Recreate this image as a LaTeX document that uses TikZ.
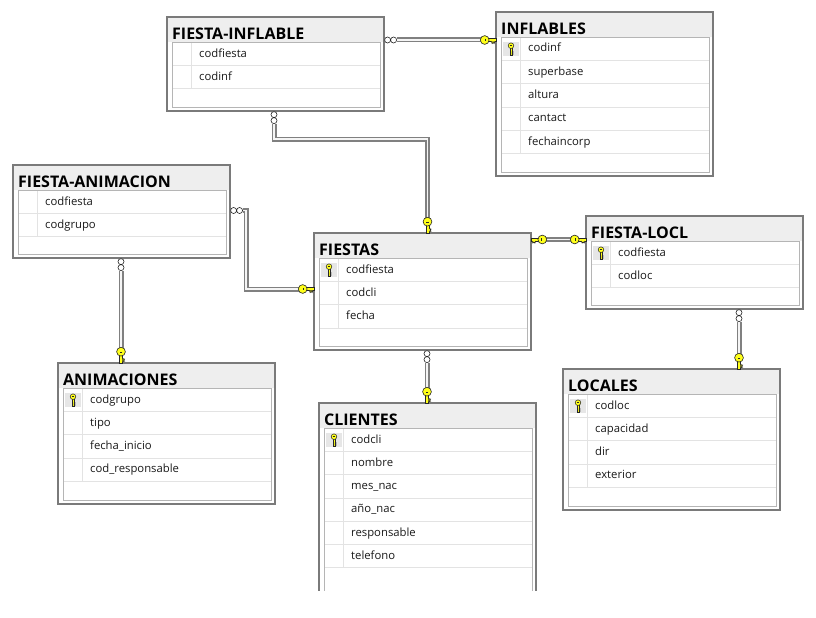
\documentclass[tikz,border=0pt]{standalone}
\usepackage{fontspec}
\setmainfont{Open Sans}
\usetikzlibrary{calc}
\definecolor{keyyellow}{HTML}{FFFF1A}
\definecolor{titlebg}{HTML}{EEEEEE}
\definecolor{bordergray}{HTML}{7A7A7A}
\definecolor{rowgray}{HTML}{E3E3E3}
\definecolor{innergray}{HTML}{B5B5B5}
\definecolor{conngray}{HTML}{808080}
\definecolor{keybg}{HTML}{E6E6E6}
\tikzset{
  tblbox/.style={draw=bordergray, line width=1.5pt, fill=white, inner sep=0pt, outer sep=0pt, rectangle},
  titletext/.style={font=\bfseries\fontsize{16}{18}\selectfont, inner sep=0pt, anchor=base west},
  rowtext/.style={font=\fontsize{11.3}{13}\selectfont, inner sep=0pt, anchor=base west, text=black!90},
  rowline/.style={draw=rowgray, line width=0.8pt},
  innerbox/.style={draw=innergray, line width=0.8pt},
  conn/.style={draw=conngray, line width=1.6pt, double=white!96!black, double distance=1.8pt},
  iconline/.style={draw=black!85, line width=0.6pt},
}
% small key in a primary-key row; #1,#2 = centre of the ring
\newcommand{\rowkey}[2]{%
  \fill[keybg] (#1-8,#2-4) rectangle (#1+7.5,#2+10);
  \filldraw[fill=keyyellow, iconline, line width=0.5pt] (#1-0.9,#2+2) rectangle (#1+0.9,#2+9.5);
  \draw[iconline, line width=0.5pt] (#1+0.9,#2+5.5) -- (#1+2.3,#2+6.3) -- (#1+0.9,#2+7.3) -- (#1+2.3,#2+8.3) -- (#1+0.9,#2+9);
  \filldraw[fill=keyyellow, iconline, line width=0.5pt] (#1,#2) circle (2.8);
  \draw[iconline, line width=0.5pt] (#1-1.2,#2) -- (#1+1.2,#2);
}
% table: #1 id, #2 left, #3 top, #4 height, #5 title, #6 rows, #7 pk flag
\newcommand{\dbtable}[7]{%
  \node[tblbox, minimum width=217pt, minimum height=#4pt, anchor=north west] (#1) at (#2,#3) {};
  \fill[titlebg] (#2+0.75,#3+0.75) rectangle (#2+216.25,#3+25);
  \node[titletext] at (#2+5,#3+22.3) {#5};
  \foreach \r [count=\i] in {#6} {
    \pgfmathsetmacro\rt{#3+25+(\i-1)*23.3}
    \draw[rowline] (#2+5,\rt+23.3) -- (#2+213,\rt+23.3);
    \draw[rowline] (#2+24,\rt) -- (#2+24,\rt+23.3);
    \node[rowtext] at (#2+32,\rt+15) {\r};
  }
  \draw[innerbox] (#2+5,#3+25) rectangle (#2+213,#3+#4-4);
  \ifnum#7=1 \rowkey{#2+15}{#3+33.7}\fi
}
% key end of a relationship: #1 edge coordinate, #2 direction toward table, #3 teeth side
\newcommand{\fkkey}[3]{%
  \begin{scope}[shift={(#1)}, rotate=#2]
    \filldraw[fill=keyyellow, iconline] (-8,-1.5) rectangle (0,1.5);
    \draw[iconline, fill=keyyellow] (-4.6,#3*1.5) -- (-3.9,#3*3.6) -- (-2.9,#3*2.4) -- (-1.9,#3*3.6) -- (-1.1,#3*1.5);
    \filldraw[fill=keyyellow, iconline] (-11.3,0) circle (4.4);
    \draw[iconline, line width=0.9pt] (-10.6,-1.4) -- (-10.6,1.4);
  \end{scope}}
% many end: #1 edge coordinate, #2 direction away from table
\newcommand{\manyend}[2]{%
  \begin{scope}[shift={(#1)}, rotate=#2]
    \filldraw[fill=white, iconline] (3.6,0) circle (3) (9.6,0) circle (3);
  \end{scope}}

\begin{document}
\begin{tikzpicture}[x=1pt, y=-1pt]
\fill[white] (0,0) rectangle (816,618);
\useasboundingbox (0,0) rectangle (816,618);

\dbtable{fi}{167}{17}{94}{FIESTA-INFLABLE}{codfiesta, codinf}{0}
\dbtable{inf}{496}{12}{164}{INFLABLES}{codinf, superbase, altura, cantact, fechaincorp}{1}
\dbtable{fa}{13}{165}{93}{FIESTA-ANIMACION}{codfiesta, codgrupo}{0}
\dbtable{fs}{314}{233}{117}{FIESTAS}{codfiesta, codcli, fecha}{1}
\dbtable{fl}{586}{216}{93}{FIESTA-LOCL}{codfiesta, codloc}{1}
\dbtable{ani}{58}{363}{141}{ANIMACIONES}{codgrupo, tipo, fecha\_inicio, cod\_responsable}{1}
\dbtable{loc}{563}{369}{141}{LOCALES}{codloc, capacidad, dir, exterior}{1}
\begin{scope}
  \clip (0,0) rectangle (816,590);
  \dbtable{cli}{319}{403}{194}{CLIENTES}{codcli, nombre, mes\_nac, año\_nac, responsable, telefono}{1}
\end{scope}

% relationship anchor points
\coordinate (p1a) at ([yshift=-23pt]fi.north east);
\coordinate (p1b) at (inf.west |- p1a);
\coordinate (p2a) at ([xshift=107pt]fi.south west);
\coordinate (p2m) at ([yshift=-28pt]p2a);
\coordinate (p2b) at ([xshift=113.5pt]fs.north west);
\coordinate (p3a) at ([yshift=-45.5pt]fa.north east);
\coordinate (p3m) at ([xshift=16pt]p3a);
\coordinate (p3b) at ([yshift=-56pt]fs.north west);
\coordinate (p4a) at ([yshift=-6.5pt]fs.north east);
\coordinate (p4b) at (fl.west |- p4a);
\coordinate (p5a) at ([xshift=153pt]fl.south west);
\coordinate (p5b) at (p5a |- loc.north);
\coordinate (p6a) at ([xshift=113pt]fs.south west);
\coordinate (p6b) at (p6a |- cli.north);
\coordinate (p7a) at ([xshift=108pt]fa.south west);
\coordinate (p7b) at (p7a |- ani.north);

% connectors
\draw[conn] ([xshift=12.6pt]p1a) -- ([xshift=-11.3pt]p1b);
\draw[conn] ([yshift=-12.6pt]p2a) -- (p2m) -| ([yshift=11.3pt]p2b);
\draw[conn] ([xshift=12.6pt]p3a) -- (p3m) |- ([xshift=-11.3pt]p3b);
\draw[conn] ([xshift=11.3pt]p4a) -- ([xshift=-11.3pt]p4b);
\draw[conn] ([yshift=-12.6pt]p5a) -- ([yshift=11.3pt]p5b);
\draw[conn] ([yshift=-12.6pt]p6a) -- ([yshift=11.3pt]p6b);
\draw[conn] ([yshift=-12.6pt]p7a) -- ([yshift=11.3pt]p7b);

% end symbols
\manyend{p1a}{0}   \fkkey{p1b}{0}{1}
\manyend{p2a}{-90} \fkkey{p2b}{-90}{-1}
\manyend{p3a}{0}   \fkkey{p3b}{0}{1}
\fkkey{p4a}{180}{-1} \fkkey{p4b}{0}{1}
\manyend{p5a}{-90} \fkkey{p5b}{-90}{-1}
\manyend{p6a}{-90} \fkkey{p6b}{-90}{-1}
\manyend{p7a}{-90} \fkkey{p7b}{-90}{-1}
\end{tikzpicture}
\end{document}
